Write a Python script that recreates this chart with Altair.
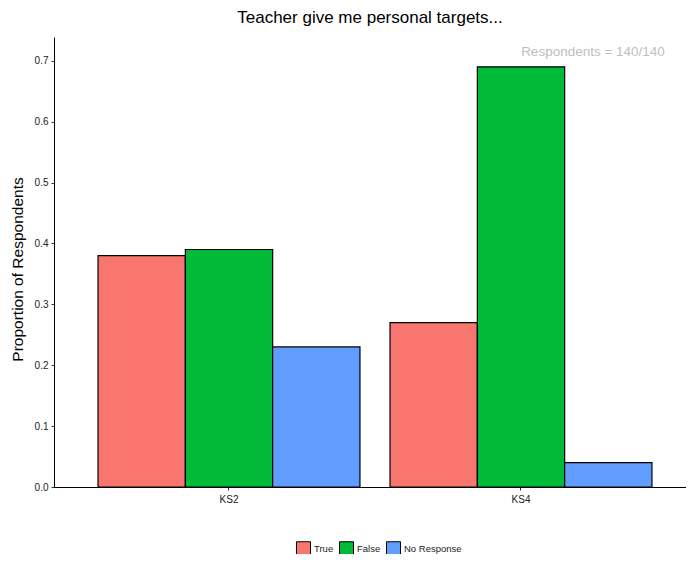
import altair as alt
import pandas as pd

groups = ["KS2", "KS2", "KS2", "KS4", "KS4", "KS4"]
responses = ["True", "False", "No Response", "True", "False", "No Response"]
proportions = [0.38, 0.39, 0.23, 0.27, 0.69, 0.04]
resp_order = ["True", "False", "No Response"]
resp_colors = ["#F8766D", "#00BA38", "#619CFF"]
annotation = ["Respondents = 140/140"]

df = pd.DataFrame({"stage": groups, "resp": responses, "prop": proportions})
FONT = "Liberation Sans"

bars = alt.Chart(df).mark_bar(stroke="black", strokeWidth=1.2).encode(
    x=alt.X("stage:N", title=None,
            scale=alt.Scale(paddingInner=0.103, paddingOuter=0.1337, align=0.564),
            axis=alt.Axis(labelAngle=0, labelFontSize=10, labelColor="#222",
                          tickSize=3, tickColor="#333", domainColor="black",
                          labelPadding=4)),
    xOffset=alt.XOffset("resp:N", sort=resp_order, scale=alt.Scale(paddingInner=0, paddingOuter=0)),
    y=alt.Y("prop:Q", title="Proportion of Respondents",
            scale=alt.Scale(domain=[0, 0.739], nice=False, zero=True),
            axis=alt.Axis(values=[0, 0.1, 0.2, 0.3, 0.4, 0.5, 0.6, 0.7], format=".1f",
                          grid=False, labelFontSize=10, labelColor="#222",
                          tickSize=3, tickColor="#333", domainColor="black",
                          titleFontSize=15.5, titleFontWeight="normal", titleColor="black",
                          titlePadding=9, titleY=232, labelPadding=3)),
    color=alt.Color("resp:N", sort=resp_order,
                    scale=alt.Scale(domain=resp_order, range=resp_colors),
                    legend=alt.Legend(title=None, orient="none", direction="horizontal",
                                      legendX=242, legendY=504,
                                      symbolType="square", symbolSize=196,
                                      symbolStrokeColor="black", symbolStrokeWidth=1,
                                      labelFontSize=9.5, labelColor="#222",
                                      columnPadding=3, labelOffset=3)),
)

ann = alt.Chart(pd.DataFrame({"t": annotation, "y": [0.715]})).mark_text(
    fontSize=13.5, color="#BEBEBE", font=FONT, align="center", baseline="middle"
).encode(text="t:N", x=alt.value(539), y="y:Q")

chart = alt.layer(bars, ann).properties(
    width=632, height=450,
    title=alt.TitleParams("Teacher give me personal targets...", fontSize=17,
                          fontWeight="normal", color="black", font=FONT, offset=10),
    autosize=alt.AutoSizeParams(type="none"),
    padding={"left": 46, "top": 29, "right": 0, "bottom": 67},
).configure(font=FONT).configure_view(stroke=None)

chart.save("out.html", embed_options={"renderer": "svg", "actions": False})
